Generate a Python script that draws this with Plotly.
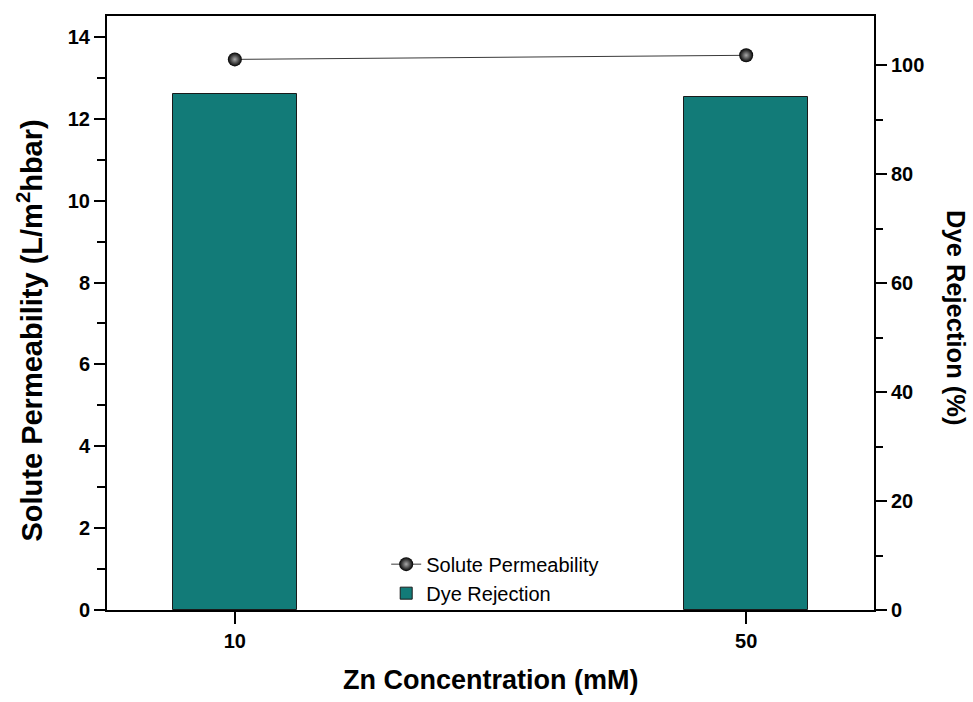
import plotly.graph_objects as go

# Zn concentration groups (mM)
concentrations = ["10", "50"]
# Solute permeability (L/m2 h bar), left axis
solute_permeability = [13.45, 13.55]
# Dye rejection (%), right axis
dye_rejection = [94.6, 94.1]

left_ticks = [0, 2, 4, 6, 8, 10, 12, 14]
right_ticks = [0, 20, 40, 60, 80, 100]

FONT = "Liberation Sans, Arial, sans-serif"

fig = go.Figure()

fig.add_trace(go.Scatter(
    x=concentrations, y=solute_permeability,
    name="Solute Permeability",
    mode="lines+markers",
    line=dict(color="#3a3a3a", width=1),
    marker=dict(size=14, color="black",
                gradient=dict(type="radial", color="#a8a8a8"),
                line=dict(width=0)),
    yaxis="y",
))

fig.add_trace(go.Bar(
    x=concentrations, y=dye_rejection,
    name="Dye Rejection",
    width=0.242,
    marker=dict(color="#127B78", line=dict(color="#1a1a1a", width=1)),
    yaxis="y2",
))

tickfont = dict(family=FONT, size=20, color="black")

fig.update_layout(
    width=973, height=702,
    margin=dict(l=107, r=99, t=16, b=92),
    paper_bgcolor="white",
    plot_bgcolor="white",
    font=dict(family=FONT, color="black"),
    showlegend=True,
    legend=dict(
        x=0.364, y=0.11, xanchor="left", yanchor="top",
        bgcolor="rgba(0,0,0,0)",
        font=dict(family=FONT, size=20, color="black"),
        traceorder="normal",
        itemwidth=30,
    ),
    xaxis=dict(
        type="category",
        range=[-0.25, 1.25],
        tickvals=concentrations,
        ticktext=[f"<b>{c}</b>" for c in concentrations],
        showline=True, linecolor="black", linewidth=2, mirror=True,
        ticks="outside", ticklen=12, tickwidth=2, tickcolor="black",
        tickfont=tickfont,
        showgrid=False, zeroline=False,
        automargin=False,
    ),
    yaxis=dict(
        range=[0, 14.51],
        tickvals=left_ticks,
        ticktext=[f"<b>{v}</b>" for v in left_ticks],
        showline=True, linecolor="black", linewidth=2,
        ticks="outside", ticklen=11, tickwidth=2, tickcolor="black",
        minor=dict(dtick=1, ticks="outside", ticklen=8, tickwidth=2,
                   tickcolor="black", showgrid=False),
        tickfont=tickfont,
        showgrid=False, zeroline=False,
        automargin=False,
    ),
    yaxis2=dict(
        range=[0, 109],
        overlaying="y", side="right",
        tickvals=right_ticks,
        ticktext=[f"<b>{v}</b>" for v in right_ticks],
        showline=True, linecolor="black", linewidth=2,
        ticks="outside", ticklen=11, tickwidth=2, tickcolor="black",
        minor=dict(dtick=10, ticks="outside", ticklen=7, tickwidth=2,
                   tickcolor="black", showgrid=False),
        tickfont=tickfont,
        showgrid=False, zeroline=False,
        automargin=False,
    ),
    bargap=0,
)

# Axis titles
fig.add_annotation(
    text="<b>Zn Concentration (mM)</b>",
    xref="paper", yref="paper",
    x=0.5, y=-0.118, xanchor="center", yanchor="middle",
    showarrow=False,
    font=dict(family=FONT, size=27, color="black"),
)
fig.add_annotation(
    text="<b>Solute Permeability (L/m<sup>2</sup>hbar)</b>",
    xref="paper", yref="paper",
    x=-0.1, y=0.471, xanchor="center", yanchor="middle",
    textangle=-90, showarrow=False,
    font=dict(family=FONT, size=29, color="black"),
)
fig.add_annotation(
    text="<b>Dye Rejection (%)</b>",
    xref="paper", yref="paper",
    x=1.1078, y=0.492, xanchor="center", yanchor="middle",
    textangle=90, showarrow=False,
    font=dict(family=FONT, size=25.5, color="black"),
)

fig.write_html("out.html")
